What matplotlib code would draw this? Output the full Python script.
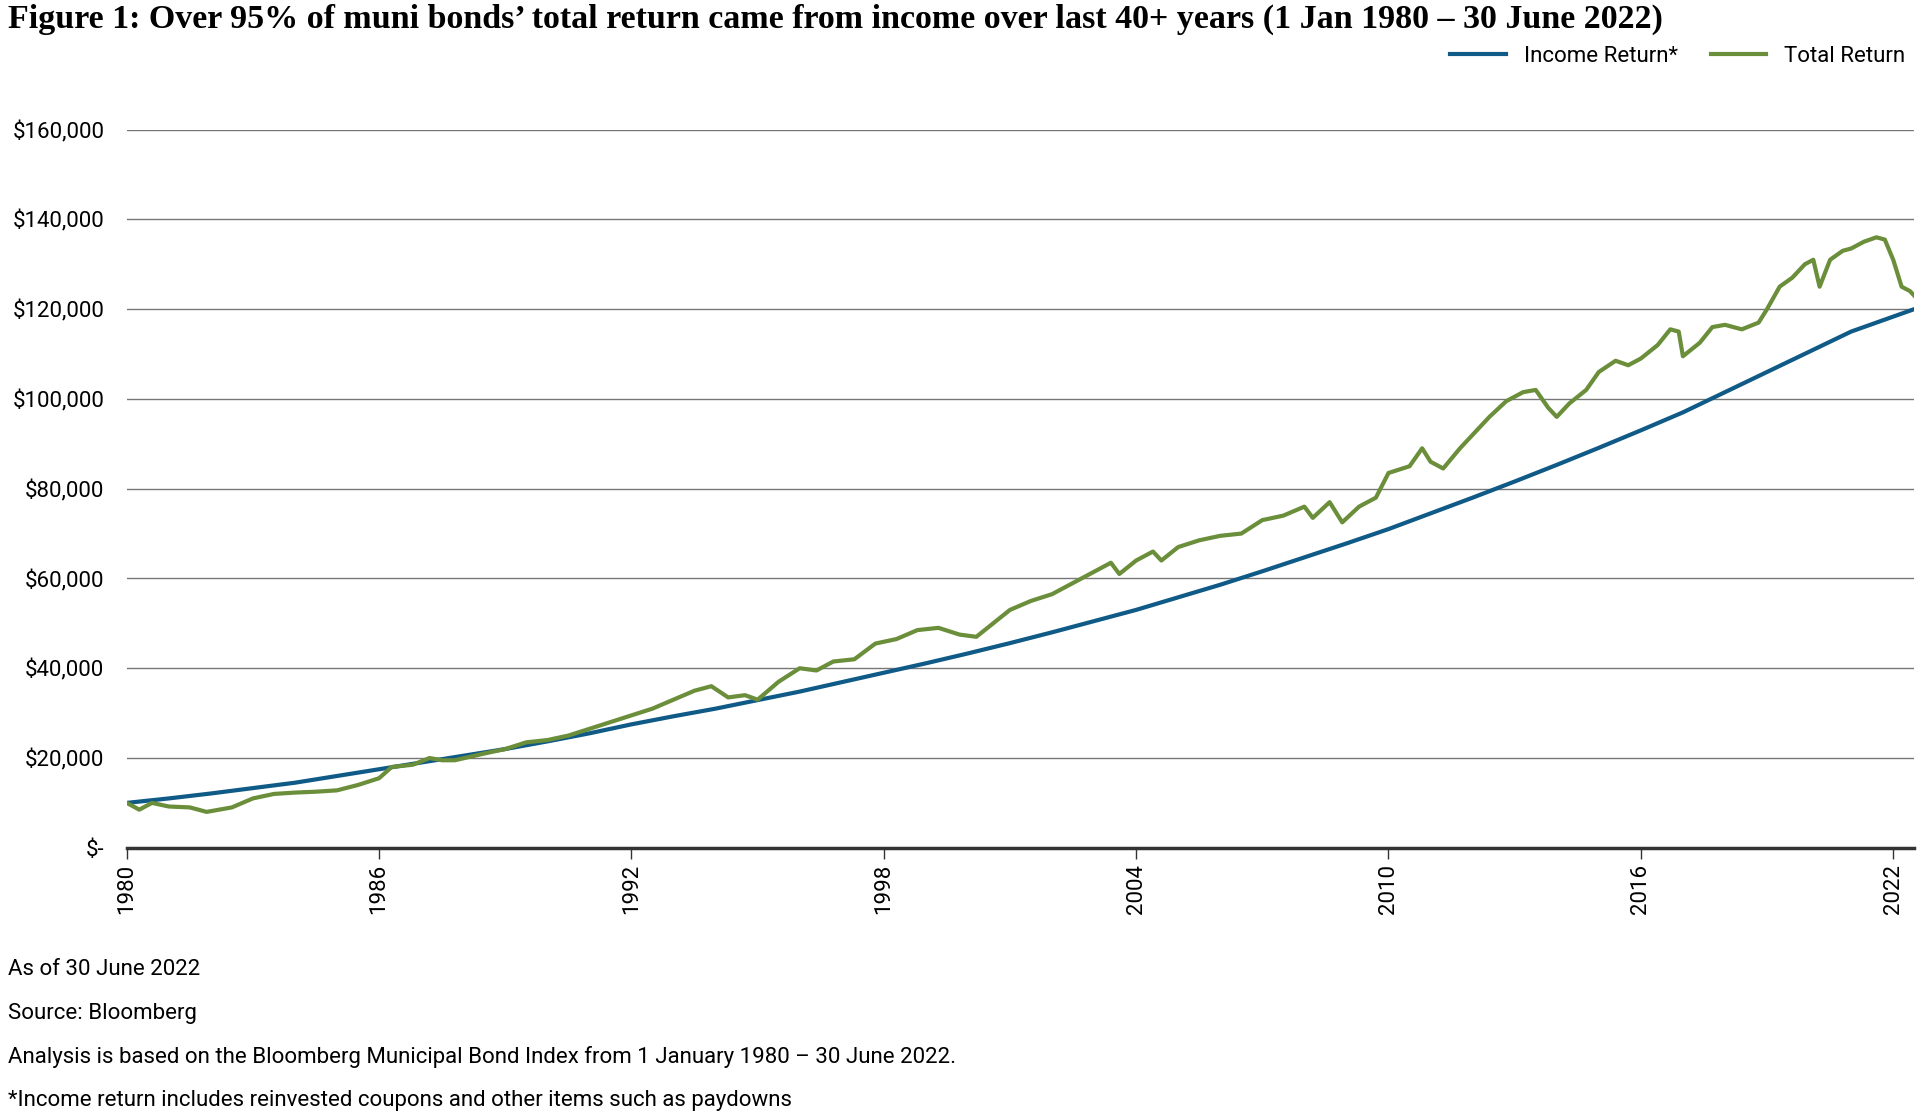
import matplotlib
matplotlib.use("Agg")
import matplotlib.pyplot as plt
from matplotlib.ticker import FuncFormatter

income_years = [1980,1981,1982,1983,1984,1985,1986,1987,1988,1989,1990,1991,1992,1993,1994,1995,1996,1997,1998,1999,2000,2001,2002,2003,2004,2005,2006,2007,2008,2009,2010,2011,2012,2013,2014,2015,2016,2017,2018,2019,2020,2021,2022.5]
income_values = [10000,11000,12100,13300,14500,16000,17500,19000,20500,22000,23700,25500,27500,29300,31000,32900,34800,36900,39000,41100,43300,45600,48000,50500,53000,55800,58600,61600,64700,67800,71000,74500,78000,81600,85300,89100,93000,97000,101500,106000,110500,115000,120000]

total_years = [1980.0,1980.3,1980.6,1981.0,1981.5,1981.9,1982.5,1983.0,1983.5,1984.0,1984.5,1985.0,1985.5,1986.0,1986.3,1986.8,1987.2,1987.5,1987.8,1988.5,1989.0,1989.5,1990.0,1990.5,1991.0,1991.5,1992.0,1992.5,1993.0,1993.5,1993.9,1994.3,1994.7,1995.0,1995.5,1996.0,1996.4,1996.8,1997.3,1997.8,1998.3,1998.8,1999.3,1999.8,2000.2,2000.6,2001.0,2001.5,2002.0,2002.5,2003.0,2003.4,2003.6,2004.0,2004.4,2004.6,2005.0,2005.5,2006.0,2006.5,2007.0,2007.5,2008.0,2008.2,2008.6,2008.9,2009.3,2009.7,2010.0,2010.5,2010.8,2011.0,2011.3,2011.7,2012.0,2012.4,2012.8,2013.2,2013.5,2013.8,2014.0,2014.3,2014.7,2015.0,2015.4,2015.7,2016.0,2016.4,2016.7,2016.9,2017.0,2017.4,2017.7,2018.0,2018.4,2018.8,2019.0,2019.3,2019.6,2019.9,2020.1,2020.25,2020.5,2020.8,2021.0,2021.3,2021.6,2021.8,2022.0,2022.2,2022.4,2022.5]
total_values = [10000,8500,10000,9200,9000,8000,9000,11000,12000,12300,12500,12800,14000,15500,18000,18500,20000,19500,19500,21000,22000,23500,24000,25000,26500,28000,29500,31000,33000,35000,36000,33500,34000,33000,37000,40000,39500,41500,42000,45500,46500,48500,49000,47500,47000,50000,53000,55000,56500,59000,61500,63500,61000,64000,66000,64000,67000,68500,69500,70000,73000,74000,76000,73500,77000,72500,76000,78000,83500,85000,89000,86000,84500,89000,92000,96000,99500,101500,102000,98000,96000,99000,102000,106000,108500,107500,109000,112000,115500,115000,109500,112500,116000,116500,115500,117000,120000,125000,127000,130000,131000,125000,131000,133000,133500,135000,136000,135500,131000,125000,124000,123000]

x_ticks = [1980,1986,1992,1998,2004,2010,2016,2022]
y_ticks = [0,20000,40000,60000,80000,100000,120000,140000,160000]
notes = ["As of 30 June 2022", "Source: Bloomberg",
         "Analysis is based on the Bloomberg Municipal Bond Index from 1 January 1980 \u2013 30 June 2022.",
         "*Income return includes reinvested coupons and other items such as paydowns"]

plt.rcParams['font.family'] = ['Roboto', 'DejaVu Sans']
fig = plt.figure(figsize=(19.2, 11.17), dpi=100)
ax = fig.add_axes([0.066, 0.241, 0.931, 0.643])
ax.plot(income_years, income_values, color='#0F5A86', lw=3, label='Income Return*')
ax.plot(total_years, total_values, color='#6B8E3A', lw=3, label='Total Return')
ax.set_xlim(1980, 2022.5)
ax.set_ylim(0, 160000)
ax.set_yticks(y_ticks)
ax.set_xticks(x_ticks)
ax.yaxis.set_major_formatter(FuncFormatter(lambda v, p: "$-" if v == 0 else f"${v:,.0f}"))
ax.grid(axis='y', color='#777777', lw=1)
ax.set_axisbelow(True)
for s in ['top', 'right', 'left']:
    ax.spines[s].set_visible(False)
ax.spines['bottom'].set_linewidth(2.5)
ax.spines['bottom'].set_color('#333333')
ax.tick_params(axis='y', length=0, labelsize=16, pad=16)
ax.tick_params(axis='x', length=8, width=1, labelsize=16, labelrotation=90, color='#333333')
leg = ax.legend(loc='lower right', bbox_to_anchor=(1.0, 1.075), ncol=2, frameon=False,
                fontsize=16, handlelength=2.5, columnspacing=1.5, borderaxespad=0)
fig.text(0.004, 0.983, "Figure 1: Over 95% of muni bonds\u2019 total return came from income over last 40+ years (1 Jan 1980 \u2013 30 June 2022)",
         fontsize=24.5, weight='semibold', family=['Liberation Serif', 'DejaVu Serif'], va='center')
for i, n in enumerate(notes):
    fig.text(0.004, 0.132 - i * 0.039, n, fontsize=16, va='center')
fig.savefig('out.png', dpi=100)
